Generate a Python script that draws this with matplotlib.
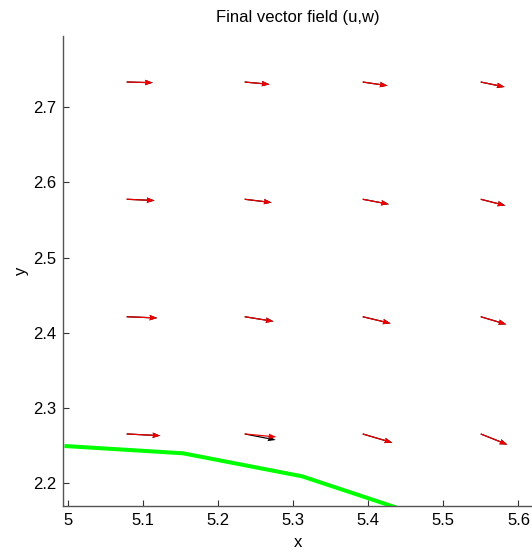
import numpy as np
import matplotlib
matplotlib.use("Agg")
import matplotlib.pyplot as plt
from matplotlib.ticker import FuncFormatter

plt.rcParams['font.family'] = ['Liberation Sans', 'DejaVu Sans']

# --- grid of arrow tails ---
x_cols = [5.0785, 5.2356, 5.3927, 5.5498]
y_rows = [2.2656, 2.4215, 2.5777, 2.7336]

# red field (rows bottom -> top)
u_red = [[0.0449, 0.0422, 0.0395, 0.0356],
         [0.0409, 0.0386, 0.0373, 0.0342],
         [0.0373, 0.0360, 0.0350, 0.0329],
         [0.0350, 0.0333, 0.0333, 0.0320]]
w_red = [[-0.0023, -0.0040, -0.0116, -0.0142],
         [-0.0017, -0.0062, -0.0089, -0.0102],
         [-0.0017, -0.0044, -0.0066, -0.0084],
         [-0.0009, -0.0031, -0.0049, -0.0066]]

# black field (mostly hidden under the red one)
u_blk = [[0.0449, 0.0413, 0.0395, 0.0356],
         [0.0409, 0.0386, 0.0373, 0.0342],
         [0.0373, 0.0360, 0.0350, 0.0329],
         [0.0350, 0.0333, 0.0333, 0.0320]]
w_blk = [[-0.0023, -0.0080, -0.0116, -0.0142],
         [-0.0017, -0.0062, -0.0089, -0.0102],
         [-0.0017, -0.0044, -0.0066, -0.0084],
         [-0.0009, -0.0031, -0.0049, -0.0066]]

# green interface line
line_x = [4.9957, 5.1535, 5.312, 5.47]
line_y = [2.2496, 2.2399, 2.2093, 2.1570]

X, Y = np.meshgrid(x_cols, y_rows)

fig = plt.figure(figsize=(5.32, 5.52), dpi=100)
ax = fig.add_axes([63.3 / 532, 1 - 505.7 / 552, 1 - 63.3 / 532, (505.7 - 36) / 552])

qkw = dict(angles='xy', scale_units='xy', scale=1, width=0.0026,
           headwidth=4.5, headlength=6.5, headaxislength=6)
ax.quiver(X, Y, np.array(u_blk), np.array(w_blk), color='black', **qkw)
ax.quiver(X, Y, np.array(u_red), np.array(w_red), color='#ee0000', **qkw)

ax.plot(line_x, line_y, color='#00ff00', linewidth=2.9, solid_capstyle='butt')

ax.set_xlim(4.9941, 5.618)
ax.set_ylim(2.1702, 2.7948)
ax.set_xticks([5.0, 5.1, 5.2, 5.3, 5.4, 5.5, 5.6])
ax.set_yticks([2.2, 2.3, 2.4, 2.5, 2.6, 2.7])
ax.xaxis.set_major_formatter(FuncFormatter(lambda v, p: f"{v:g}"))
ax.yaxis.set_major_formatter(FuncFormatter(lambda v, p: f"{v:g}"))

for s in ['top', 'right']:
    ax.spines[s].set_visible(False)
for s in ['left', 'bottom']:
    ax.spines[s].set_color('#555555')
    ax.spines[s].set_linewidth(1.0)

ax.tick_params(direction='in', length=4, width=0.8, color='#333333',
               labelsize=12, labelcolor='black', pad=5)

ax.set_title("Final vector field (u,w)", fontsize=12, pad=10)
ax.set_xlabel("x", fontsize=12, labelpad=5)
ax.set_ylabel("y", fontsize=12, labelpad=3)

fig.savefig("out.png", dpi=100)
